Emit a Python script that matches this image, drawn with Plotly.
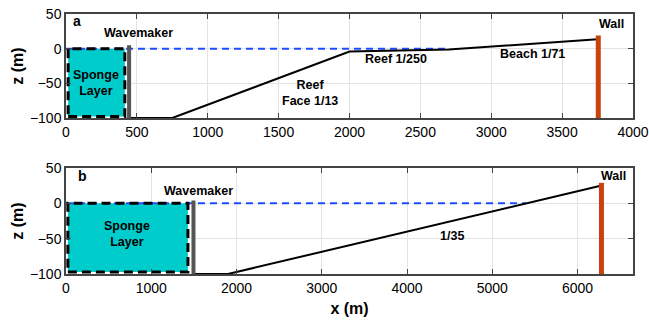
import plotly.graph_objects as go

# ---- data (panel a) ----
a_bathy_x = [445, 750, 2000, 2700, 3750]
a_bathy_z = [-100, -100, -4, -1.2, 13.6]
a_sea_x = [0, 2700]
a_sea_z = [0, 0]
a_sponge_x = [15, 415]
a_sponge_z = [-98, 0]
a_wavemaker_x = 445
a_wavemaker_z = [-100, 5]
a_wall_x = 3755
a_wall_z = [-100, 19]

# ---- data (panel b) ----
b_bathy_x = [1495, 1900, 6270]
b_bathy_z = [-100, -100, 24.9]
b_sea_x = [0, 5400]
b_sea_z = [0, 0]
b_sponge_x = [22, 1430]
b_sponge_z = [-97, 0]
b_wavemaker_x = 1495
b_wavemaker_z = [-100, 4]
b_wall_x = 6280
b_wall_z = [-100, 29]

a_xticks = [0, 500, 1000, 1500, 2000, 2500, 3000, 3500, 4000]
b_xticks = [0, 1000, 2000, 3000, 4000, 5000, 6000]
z_ticks = [-100, -50, 0, 50]

CYAN = "#00CCCC"
WALL = "#C8420C"
GRAY = "#555555"
BLUE = "#1F4BFF"
FONT = "Liberation Sans, Arial, sans-serif"

fig = go.Figure()


def add_panel(xa, ya, sponge_x, sponge_z, sea_x, sea_z, bathy_x, bathy_z,
              wm_x, wm_z, wall_x, wall_z):
    x0, x1 = sponge_x
    z0, z1 = sponge_z
    # sponge fill
    fig.add_trace(go.Scatter(x=[x0, x1, x1, x0, x0], y=[z0, z0, z1, z1, z0],
                             fill="toself", fillcolor=CYAN, mode="lines",
                             line=dict(width=0, color=CYAN),
                             xaxis=xa, yaxis=ya, hoverinfo="skip"))
    # sea level
    fig.add_trace(go.Scatter(x=sea_x, y=sea_z, mode="lines",
                             line=dict(color=BLUE, width=2, dash="7px,5px"),
                             xaxis=xa, yaxis=ya))
    # sponge dashed border
    fig.add_trace(go.Scatter(x=[x0, x1, x1, x0, x0], y=[z0, z0, z1, z1, z0],
                             mode="lines",
                             line=dict(color="black", width=3, dash="9px,5px"),
                             xaxis=xa, yaxis=ya))
    # bathymetry
    fig.add_trace(go.Scatter(x=bathy_x, y=bathy_z, mode="lines",
                             line=dict(color="black", width=2),
                             xaxis=xa, yaxis=ya))
    # wavemaker
    fig.add_trace(go.Scatter(x=[wm_x, wm_x], y=wm_z, mode="lines",
                             line=dict(color=GRAY, width=4),
                             xaxis=xa, yaxis=ya))
    # wall
    fig.add_trace(go.Scatter(x=[wall_x, wall_x], y=wall_z, mode="lines",
                             line=dict(color=WALL, width=5),
                             xaxis=xa, yaxis=ya))


add_panel("x", "y", a_sponge_x, a_sponge_z, a_sea_x, a_sea_z, a_bathy_x,
          a_bathy_z, a_wavemaker_x, a_wavemaker_z, a_wall_x, a_wall_z)
add_panel("x2", "y2", b_sponge_x, b_sponge_z, b_sea_x, b_sea_z, b_bathy_x,
          b_bathy_z, b_wavemaker_x, b_wavemaker_z, b_wall_x, b_wall_z)


def label(text, x, y, xr, yr, size=12.5):
    fig.add_annotation(text="<b>" + text + "</b>", x=x, y=y, xref=xr, yref=yr,
                       showarrow=False, font=dict(family=FONT, size=size, color="black"))


label("a", 80, 40, "x", "y", 14)
label("Wavemaker", 510, 23, "x", "y")
label("Sponge<br>Layer", 215, -50, "x", "y")
label("Reef<br>Face 1/13", 1720, -64, "x", "y")
label("Reef 1/250", 2330, -15, "x", "y")
label("Beach 1/71", 3290, -7, "x", "y")
label("Wall", 3850, 35, "x", "y")

label("b", 190, 38, "x2", "y2", 14)
label("Wavemaker", 1550, 18, "x2", "y2")
label("Sponge<br>Layer", 720, -43, "x2", "y2")
label("1/35", 4530, -46, "x2", "y2")
label("Wall", 6420, 38, "x2", "y2")

axis_common = dict(showgrid=True, gridcolor="#E3E3E3", gridwidth=1,
                   showline=True, linecolor="#444444", linewidth=1.5, mirror="ticks",
                   ticks="inside", ticklen=5, tickcolor="#444444", automargin=False,
                   zeroline=False, tickfont=dict(family=FONT, size=14, color="black"))

TFONT = dict(family=FONT, size=16, color="black")

fig.update_layout(
    width=649, height=326,
    margin=dict(l=66, r=16, t=14, b=52),
    paper_bgcolor="white", plot_bgcolor="white",
    showlegend=False,
    xaxis=dict(domain=[0, 1], range=[0, 4000], tickvals=a_xticks, anchor="y",
               **axis_common),
    yaxis=dict(domain=[0.6, 1], range=[-100, 50], tickvals=z_ticks, anchor="x",
               title=dict(text="<b>z (m)</b>", font=TFONT, standoff=2), **axis_common),
    xaxis2=dict(domain=[0, 1], range=[0, 6650], tickvals=b_xticks, anchor="y2",
                title=dict(text="<b>x (m)</b>", font=TFONT, standoff=8), **axis_common),
    yaxis2=dict(domain=[0, 0.4077], range=[-100, 50], tickvals=z_ticks, anchor="x2",
                title=dict(text="<b>z (m)</b>", font=TFONT, standoff=2), **axis_common),
)

fig.write_html("out.html")
